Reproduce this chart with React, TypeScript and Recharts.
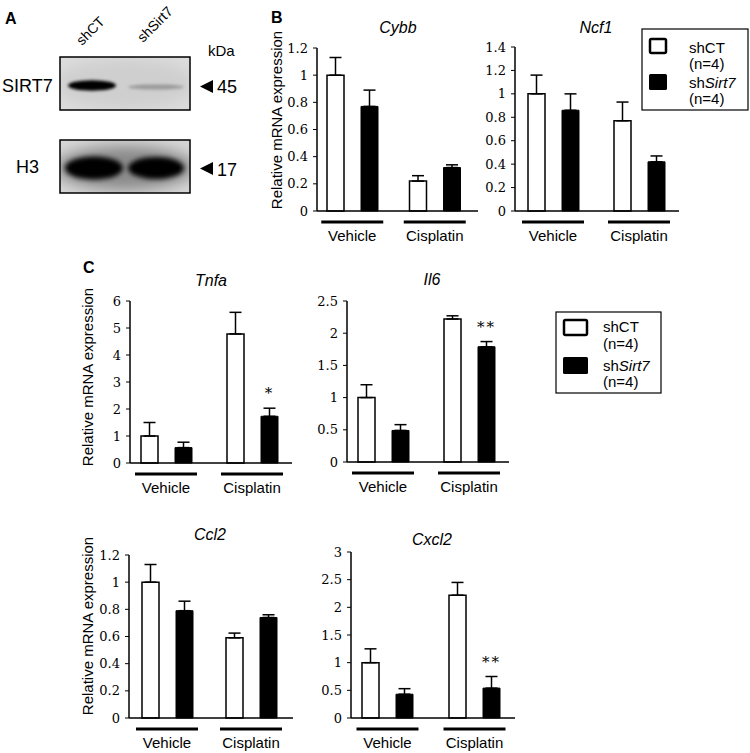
import React from 'react';
import { BarChart, Bar, XAxis, YAxis, ErrorBar, LabelList } from 'recharts';

const SANS = '"Liberation Sans", Arial, sans-serif';
const SERIF = 'DejaVu Serif';

// categories and series
const groups = ['Vehicle', 'Cisplatin'];
const seriesNames = ['shCT', 'shSirt7'];
const legendSub = '(n=4)';

// panel B
const cybbCT = [1.0, 0.22];
const cybbCTErr = [0.13, 0.04];
const cybbKD = [0.77, 0.32];
const cybbKDErr = [0.12, 0.02];
const cybbTicks = [0, 0.2, 0.4, 0.6, 0.8, 1, 1.2];

const ncf1CT = [1.0, 0.77];
const ncf1CTErr = [0.16, 0.16];
const ncf1KD = [0.86, 0.42];
const ncf1KDErr = [0.14, 0.05];
const ncf1Ticks = [0, 0.2, 0.4, 0.6, 0.8, 1, 1.2, 1.4];

// panel C
const tnfaCT = [1.0, 4.78];
const tnfaCTErr = [0.5, 0.8];
const tnfaKD = [0.57, 1.73];
const tnfaKDErr = [0.2, 0.3];
const tnfaSig = ['', '*'];
const tnfaTicks = [0, 1, 2, 3, 4, 5, 6];

const il6CT = [1.0, 2.22];
const il6CTErr = [0.2, 0.05];
const il6KD = [0.49, 1.79];
const il6KDErr = [0.09, 0.08];
const il6Sig = ['', '**'];
const il6Ticks = [0, 0.5, 1, 1.5, 2, 2.5];

const ccl2CT = [1.0, 0.59];
const ccl2CTErr = [0.13, 0.035];
const ccl2KD = [0.79, 0.74];
const ccl2KDErr = [0.07, 0.02];
const ccl2Ticks = [0, 0.2, 0.4, 0.6, 0.8, 1, 1.2];

const cxcl2CT = [1.0, 2.22];
const cxcl2CTErr = [0.25, 0.23];
const cxcl2KD = [0.43, 0.54];
const cxcl2KDErr = [0.1, 0.21];
const cxcl2Sig = ['', '**'];
const cxcl2Ticks = [0, 0.5, 1, 1.5, 2, 2.5, 3];

const noSig = ['', ''];

const buildRows = (ct, ctErr, kd, kdErr, sig) =>
  groups.map((g, i) => ({
    group: g,
    ct: ct[i],
    ctErr: [0, ctErr[i]],
    kd: kd[i],
    kdErr: [0, kdErr[i]],
    sig: sig[i],
  }));

const panels = [
  { title: 'Cybb', rows: buildRows(cybbCT, cybbCTErr, cybbKD, cybbKDErr, noSig), ticks: cybbTicks,
    axisX: 317, axisEnd: 478, yTop: 48, yBottom: 211, pad: { left: -6, right: 2 }, titleX: 398, titleY: 33 },
  { title: 'Ncf1', rows: buildRows(ncf1CT, ncf1CTErr, ncf1KD, ncf1KDErr, noSig), ticks: ncf1Ticks,
    axisX: 515, axisEnd: 679, yTop: 47, yBottom: 211, pad: { left: -5, right: -3 }, titleX: 596, titleY: 33 },
  { title: 'Tnfa', rows: buildRows(tnfaCT, tnfaCTErr, tnfaKD, tnfaKDErr, tnfaSig), ticks: tnfaTicks,
    axisX: 130, axisEnd: 292, yTop: 301, yBottom: 463, pad: { left: -7, right: -3 }, titleX: 211, titleY: 286 },
  { title: 'Il6', rows: buildRows(il6CT, il6CTErr, il6KD, il6KDErr, il6Sig), ticks: il6Ticks,
    axisX: 347, axisEnd: 509, yTop: 301, yBottom: 462, pad: { left: -7, right: -3 }, titleX: 432, titleY: 285 },
  { title: 'Ccl2', rows: buildRows(ccl2CT, ccl2CTErr, ccl2KD, ccl2KDErr, noSig), ticks: ccl2Ticks,
    axisX: 129, axisEnd: 293, yTop: 555, yBottom: 718, pad: { left: -4, right: 0 }, titleX: 210, titleY: 540 },
  { title: 'Cxcl2', rows: buildRows(cxcl2CT, cxcl2CTErr, cxcl2KD, cxcl2KDErr, cxcl2Sig), ticks: cxcl2Ticks,
    axisX: 351, axisEnd: 515, yTop: 552, yBottom: 718, pad: { left: -7, right: -3 }, titleX: 432, titleY: 545 },
];

const Y_W = 50;
const M_TOP = 10;
const M_RIGHT = 10;
const X_H = 40;

function GroupTick(props: any) {
  const { x, y, payload } = props;
  return (
    <g>
      <line x1={x - 31} x2={x + 31} y1={y + 11} y2={y + 11} stroke="#000" strokeWidth={3} />
      <text x={x} y={y + 30} textAnchor="middle" fontFamily={SANS} fontSize={15} fill="#000">
        {payload.value}
      </text>
    </g>
  );
}

function ValueTick(props: any) {
  const { x, y, payload } = props;
  return (
    <text x={x} y={y} dy={4.5} textAnchor="end" fontFamily={SERIF} fontSize={13} fill="#000">
      {String(payload.value)}
    </text>
  );
}

function ExprChart({ p }: { p: any }) {
  const plotW = p.axisEnd - p.axisX;
  const plotH = p.yBottom - p.yTop;
  const width = Y_W + plotW + M_RIGHT;
  const height = M_TOP + plotH + X_H;
  const max = p.ticks[p.ticks.length - 1];
  const pxPer = plotH / max;

  const renderSig = (props: any) => {
    const { x, y, width: w, value, index } = props;
    if (!value) return null;
    const errTop = Number(y) - p.rows[index].kdErr[1] * pxPer;
    return (
      <text x={Number(x) + Number(w) / 2} y={errTop - 10} textAnchor="middle"
        fontFamily={SERIF} fontSize={15} letterSpacing={2} fill="#000">
        {value}
      </text>
    );
  };

  return (
    <div style={{ position: 'absolute', left: p.axisX - Y_W, top: p.yTop - M_TOP }}>
      <BarChart width={width} height={height} data={p.rows}
        margin={{ top: M_TOP, right: M_RIGHT, bottom: 0, left: 0 }}
        barSize={17} barGap={17}>
        <XAxis dataKey="group" height={X_H} padding={p.pad}
          axisLine={{ stroke: '#000', strokeWidth: 1.5 }} tickLine={false}
          tickSize={0} tickMargin={0} interval={0} tick={<GroupTick />} />
        <YAxis width={Y_W} domain={[0, max]} ticks={p.ticks} interval={0}
          axisLine={{ stroke: '#000', strokeWidth: 1.5 }}
          tickLine={{ stroke: '#000', strokeWidth: 1 }} tickSize={4} tickMargin={5}
          tick={<ValueTick />} />
        <Bar dataKey="ct" fill="#fff" stroke="#000" strokeWidth={1.5} isAnimationActive={false}>
          <ErrorBar dataKey="ctErr" direction="y" width={6} stroke="#000" strokeWidth={1.5} />
        </Bar>
        <Bar dataKey="kd" fill="#000" stroke="#000" strokeWidth={1} isAnimationActive={false}>
          <ErrorBar dataKey="kdErr" direction="y" width={6} stroke="#000" strokeWidth={1.5} />
          <LabelList dataKey="sig" content={renderSig} />
        </Bar>
      </BarChart>
    </div>
  );
}

function Legend({ x, y, w, h, swX, swW, swH, swY, textX, lines }: any) {
  return (
    <g fontFamily={SANS} fontSize={15} fill="#000">
      <rect x={x} y={y} width={w} height={h} fill="#fff" stroke="#000" strokeWidth={1.2} />
      <rect x={swX} y={swY[0]} width={swW} height={swH} rx={1.5} fill="#fff" stroke="#000" strokeWidth={2.5} />
      <rect x={swX - 1} y={swY[1]} width={swW + 2} height={swH + 2} rx={1.5} fill="#000" />
      <text x={textX} y={lines[0]}>{seriesNames[0]}</text>
      <text x={textX} y={lines[1]}>{legendSub}</text>
      <text x={textX} y={lines[2]}>
        {seriesNames[1].slice(0, 2)}
        <tspan fontStyle="italic">{seriesNames[1].slice(2)}</tspan>
      </text>
      <text x={textX} y={lines[3]}>{legendSub}</text>
    </g>
  );
}

function Blot() {
  return (
    <g>
      <defs>
        <filter id="blurS" x="-50%" y="-50%" width="200%" height="200%">
          <feGaussianBlur stdDeviation="1.6" />
        </filter>
        <filter id="blurM" x="-50%" y="-50%" width="200%" height="200%">
          <feGaussianBlur stdDeviation="2.6" />
        </filter>
        <filter id="blurL" x="-50%" y="-50%" width="200%" height="200%">
          <feGaussianBlur stdDeviation="7" />
        </filter>
        <clipPath id="clip1"><rect x={60} y={57} width={130} height={53} /></clipPath>
        <clipPath id="clip2"><rect x={60} y={140} width={130} height={53} /></clipPath>
      </defs>

      <text x={5} y={24} fontFamily={SANS} fontSize={16} fontWeight="bold">A</text>
      <text x={82} y={46} transform="rotate(-45 82 46)" fontFamily={SANS} fontSize={14}>shCT</text>
      <text x={143} y={43} transform="rotate(-45 143 43)" fontFamily={SANS} fontSize={14}>shSirt7</text>
      <text x={208} y={56} fontFamily={SANS} fontSize={15}>kDa</text>

      <g clipPath="url(#clip1)">
        <rect x={60} y={57} width={130} height={53} fill="#dcdcdc" />
        <ellipse cx={125} cy={84} rx={70} ry={25} fill="#cfcfcf" filter="url(#blurL)" />
        <ellipse cx={92} cy={85.5} rx={24} ry={5.2} fill="#000" filter="url(#blurS)" />
        <ellipse cx={156} cy={87} rx={28} ry={2.6} fill="#9a9a9a" filter="url(#blurS)" />
      </g>
      <rect x={60} y={57} width={130} height={53} fill="none" stroke="#000" strokeWidth={1.5} />

      <g clipPath="url(#clip2)">
        <rect x={60} y={140} width={130} height={53} fill="#d6d6d6" />
        <ellipse cx={125} cy={168} rx={70} ry={22} fill="#8a8a8a" filter="url(#blurL)" />
        <ellipse cx={94} cy={168} rx={29} ry={11.5} fill="#000" filter="url(#blurM)" />
        <ellipse cx={156} cy={168} rx={28} ry={11} fill="#000" filter="url(#blurM)" />
      </g>
      <rect x={60} y={140} width={130} height={53} fill="none" stroke="#000" strokeWidth={1.5} />

      <text x={2} y={92} fontFamily={SANS} fontSize={18}>SIRT7</text>
      <text x={16} y={173} fontFamily={SANS} fontSize={18}>H3</text>

      <polygon points="200,86.5 213,80 213,93" fill="#000" />
      <text x={217} y={93} fontFamily={SANS} fontSize={18}>45</text>
      <polygon points="200,168.5 213,162 213,175" fill="#000" />
      <text x={217} y={175.5} fontFamily={SANS} fontSize={18}>17</text>
    </g>
  );
}

function YLabel({ cx, cy }: { cx: number; cy: number }) {
  return (
    <text x={cx} y={cy} transform={`rotate(-90 ${cx} ${cy})`} textAnchor="middle"
      dominantBaseline="central" fontFamily={SANS} fontSize={15} fill="#000">
      Relative mRNA expression
    </text>
  );
}

export default function App() {
  return (
    <div style={{ position: 'absolute', left: 0, top: 0, width: 750, height: 753, background: '#fff' }}>
      {panels.map((p) => (
        <ExprChart key={p.title} p={p} />
      ))}
      <svg width={750} height={753} style={{ position: 'absolute', left: 0, top: 0, pointerEvents: 'none' }}>
        <Blot />
        <text x={271} y={23} fontFamily={SANS} fontSize={16} fontWeight="bold">B</text>
        <text x={83} y={273} fontFamily={SANS} fontSize={16} fontWeight="bold">C</text>
        {panels.map((p) => (
          <text key={p.title} x={p.titleX} y={p.titleY} textAnchor="middle" fontFamily={SANS}
            fontSize={16} fontStyle="italic" fill="#000">
            {p.title}
          </text>
        ))}
        <YLabel cx={276} cy={120} />
        <YLabel cx={87} cy={377} />
        <YLabel cx={87} cy={626} />
        <Legend x={642} y={29} w={106} h={81} swX={650} swW={16} swH={14} swY={[39, 74]}
          textX={689} lines={[53, 69, 88, 104]} />
        <Legend x={556} y={312} w={105} h={81} swX={564} swW={23} swH={15} swY={[320, 357]}
          textX={603} lines={[332, 349, 371, 387]} />
      </svg>
    </div>
  );
}
